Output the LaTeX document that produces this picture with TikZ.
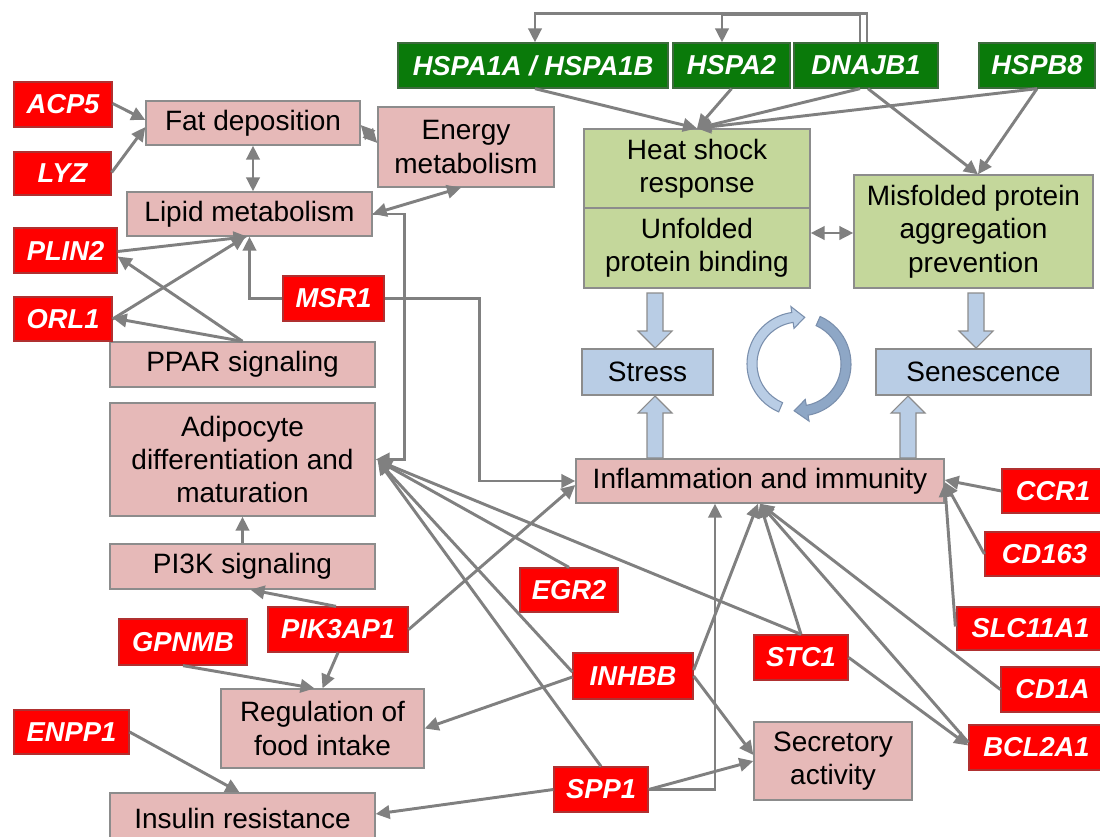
\documentclass[tikz,border=0pt]{standalone}
\usepackage{fontspec}
\setmainfont{Liberation Sans}
\usetikzlibrary{arrows.meta,calc}

\definecolor{genered}{HTML}{FF0000}
\definecolor{generim}{HTML}{B03030}
\definecolor{hspgreen}{HTML}{0A7A0A}
\definecolor{hsprim}{HTML}{3D6B3D}
\definecolor{procpink}{HTML}{E6B9B8}
\definecolor{procgreen}{HTML}{C4D79B}
\definecolor{procblue}{HTML}{B9CDE5}
\definecolor{boxrim}{HTML}{8C8C8C}
\definecolor{linkgray}{HTML}{808080}
\definecolor{cycdark}{HTML}{8EA7C6}
\definecolor{cycrim}{HTML}{7A8FAD}

\tikzset{
  boxbase/.style={inner sep=0pt, line width=1pt, align=center},
  gene/.style={boxbase, fill=genered, draw=generim, text=white,
    font=\fontsize{20.5}{24}\selectfont\bfseries\itshape},
  hsp/.style={boxbase, fill=hspgreen, draw=hsprim, text=white,
    font=\fontsize{20.5}{24}\selectfont\bfseries\itshape},
  proc/.style={boxbase, fill=procpink, draw=boxrim, font=\fontsize{21}{25}\selectfont},
  func/.style={proc, fill=procgreen},
  state/.style={proc, fill=procblue},
  tip/.tip={Triangle[length=10.5pt,width=10pt]},
  link/.style={draw=linkgray, line width=2.2pt, -tip},
  dlink/.style={draw=linkgray, line width=2.2pt, tip-tip},
  blockarrow/.style={fill=procblue, draw=boxrim, line width=0.8pt},
  cyclearrow/.style={draw=cycrim, line width=0.8pt},
}

% box from its pixel corners: name, x1, y1, x2, y2, style, text
\newcommand{\bx}[7]{\node[#6, minimum width={(#4-#2)*0.75pt},
  minimum height={(#5-#3)*0.75pt}] (#1) at ({(#2+#4)/2},{(#3+#5)/2}) {#7};}

% wide block arrow: x, start y, tip y, signed head length
\newcommand{\blk}[4]{\filldraw[blockarrow] ({#1-8},#2) -- ({#1+8},#2)
  -- ({#1+8},{#3-(#4)}) -- ({#1+17},{#3-(#4)}) -- (#1,#3)
  -- ({#1-17},{#3-(#4)}) -- ({#1-8},{#3-(#4)}) -- cycle;}

\begin{document}
\begin{tikzpicture}[x=0.75pt,y=-0.75pt]
\useasboundingbox (0,0) rectangle (1100,836);
\fill[white] (0,0) rectangle (1100,836);

% heat shock protein genes
\bx{g1}{398}{43}{668}{88}{hsp}{HSPA1A / HSPA1B}
\bx{g2}{673}{43}{790}{88}{hsp}{HSPA2}
\bx{g3}{794}{43}{938}{88}{hsp}{DNAJB1}
\bx{g4}{979}{43}{1095}{88}{hsp}{HSPB8}

% chaperone functions
\bx{heat}{584}{129}{810}{208}{func}{Heat shock\\response}
\bx{unfold}{584}{208}{810}{288}{func}{Unfolded\\protein binding}
\bx{misfold}{854}{175}{1093}{288}{func}{Misfolded protein\\aggregation\\prevention}

% outcomes
\bx{stress}{582}{349}{713}{395}{state}{Stress}
\bx{senesc}{876}{349}{1091}{395}{state}{Senescence}

% processes
\bx{fat}{146}{101}{360}{145}{proc}{Fat deposition}
\bx{energy}{378}{107}{554}{187}{proc}{Energy\\metabolism}
\bx{lipid}{127}{192}{372}{236}{proc}{Lipid metabolism}
\bx{ppar}{110}{342}{375}{387}{proc}{PPAR signaling}
\bx{adipo}{110}{403}{375}{516}{proc}{Adipocyte\\differentiation and\\maturation}
\bx{pi3k}{110}{544}{375}{589}{proc}{PI3K signaling}
\bx{food}{221}{689}{424}{768}{proc}{Regulation of\\food intake}
\bx{insulin}{110}{793}{375}{843}{proc}{Insulin resistance}
\bx{inflam}{576}{459}{944}{503}{proc}{Inflammation and immunity}
\bx{secret}{754}{722}{912}{800}{proc}{Secretory\\activity}

% genes
\bx{acp5}{14}{82}{112}{127}{gene}{ACP5}
\bx{lyz}{14}{152}{111}{195}{gene}{LYZ}
\bx{plin2}{14}{228}{117}{273}{gene}{PLIN2}
\bx{orl1}{14}{297}{112}{341}{gene}{ORL1}
\bx{msr1}{283}{276}{384}{321}{gene}{MSR1}
\bx{gpnmb}{119}{619}{247}{665}{gene}{GPNMB}
\bx{pik3ap1}{268}{607}{408}{652}{gene}{PIK3AP1}
\bx{enpp1}{14}{710}{129}{754}{gene}{ENPP1}
\bx{egr2}{520}{568}{618}{612}{gene}{EGR2}
\bx{inhbb}{573}{653}{693}{699}{gene}{INHBB}
\bx{spp1}{554}{767}{648}{812}{gene}{SPP1}
\bx{stc1}{754}{635}{848}{680}{gene}{STC1}
\bx{ccr1}{1002}{469}{1104}{513}{gene}{CCR1}
\bx{cd163}{985}{532}{1104}{576}{gene}{CD163}
\bx{slc}{957}{607}{1104}{650}{gene}{SLC11A1}
\bx{cd1a}{1001}{667}{1104}{712}{gene}{CD1A}
\bx{bcl}{969}{725}{1104}{770}{gene}{BCL2A1}

% block arrows between functions, outcomes and inflammation
\blk{655}{293}{348}{17}
\blk{976}{293}{348}{17}
\blk{655}{458}{396}{-17}
\blk{908}{458}{396}{-17}

% feedback cycle between stress and senescence
\filldraw[cyclearrow, fill=procblue]
  ([shift={(799,364)}]113:52) arc[start angle=113, end angle=262, radius=52]
  -- ([shift={(799,364)}]262:58) -- ([shift={(799,364)}]277:47)
  -- ([shift={(799,364)}]262:36) -- ([shift={(799,364)}]262:42)
  arc[start angle=262, end angle=113, radius=42] -- cycle;
\filldraw[cyclearrow, fill=cycdark]
  ([shift={(799,364)}]-66:52) arc[start angle=-66, end angle=80, radius=52]
  -- ([shift={(799,364)}]80:58) -- ([shift={(799,364)}]96:47)
  -- ([shift={(799,364)}]80:36) -- ([shift={(799,364)}]80:42)
  arc[start angle=80, end angle=-66, radius=42] -- cycle;

% DNAJB1 feedback onto the HSP70 genes
\draw[link] ([shift={(1,0)}]g3.north) -- ++(0,-29) -| ([shift={(2,0)}]g1.north);
\draw[link] ([shift={(-6,0)}]g3.north) -- ++(0,-28) -| ([shift={(-9.5,0)}]g2.north);

% genes to chaperone functions
\draw[link] ([shift={(2,0)}]g1.south) -- (heat.north);
\draw[link] (g2.south) -- (heat.north);
\draw[link] ([shift={(-6,0)}]g3.south) -- (heat.north);
\draw[link] (g4.south) -- (heat.north);
\draw[link] ([shift={(2,0)}]g3.south) -- ([shift={(4.5,0)}]misfold.north);
\draw[link] (g4.south) -- ([shift={(4.5,0)}]misfold.north);
\draw[dlink] ([shift={(0,-15)}]unfold.east) -- ([shift={(0,1.5)}]misfold.west);

% lipid and fat block
\draw[link] ([shift={(0,-1)}]acp5.east) -- ([shift={(0,-3)}]fat.west);
\draw[link] ([shift={(0,-1)}]lyz.east) -- ([shift={(0,4)}]fat.west);
\draw[dlink] (fat.south) -- (fat.south |- lipid.north);
\draw[dlink] ([shift={(0,2)}]fat.east) -- ([shift={(0,-4)}]energy.west);
\draw[dlink] (lipid.east) -- ([shift={(-5,0)}]energy.south);
\draw[link] (lipid.east) -- ++(32,0) |- (adipo.east);
\draw[link] ([shift={(0,1)}]plin2.east) -- ([shift={(-2,0)}]lipid.south);
\draw[link] (orl1.east) -- ([shift={(-4,0)}]lipid.south);
\draw[link] (ppar.north) -- ([shift={(0,6)}]plin2.east);
\draw[link] (ppar.north) -- ([shift={(0,-1)}]orl1.east);
\draw[link] (msr1.west) -- (msr1.west -| lipid.south) -- (lipid.south);
\draw[link] (msr1.east) -- ++(95,0) |- (inflam.west);

% adipocyte, feeding and insulin block
\draw[link] (pi3k.north) -- (adipo.south);
\draw[link] ([shift={(-2,0)}]pik3ap1.north) -- ([shift={(8,0)}]pi3k.south);
\draw[link] (pik3ap1.south) -- (food.north);
\draw[link] (gpnmb.south) -- ([shift={(-8,0)}]food.north);
\draw[link] (enpp1.east) -- ([shift={(-3,0)}]insulin.north);
\draw[link] (pik3ap1.east) -- ([shift={(0,4)}]inflam.west);
\draw[link] (egr2.north) -- ([shift={(2,1)}]adipo.east);
\draw[link] (stc1.north) -- ([shift={(2,1)}]adipo.east);
\draw[link] ([shift={(0,-4)}]inhbb.west) -- ([shift={(2,1)}]adipo.east);
\draw[link] (spp1.north) -- ([shift={(2,1)}]adipo.east);
\draw[link] ([shift={(0,1)}]inhbb.west) -- (food.east);
\draw[link] (spp1.west) -- ([shift={(0,-4)}]insulin.east);

% inflammation and secretion
\draw[link] (spp1.east) -- (secret.west);
\draw[link] (spp1.east) -| ([shift={(-45,0)}]inflam.south);
\draw[link] ([shift={(0,-6)}]inhbb.east) -- ([shift={(-2,0)}]inflam.south);
\draw[link] (inhbb.east) -- ([shift={(0,-6)}]secret.west);
\draw[link] (stc1.north) -- (inflam.south);
\draw[link] (stc1.east) -- ([shift={(0,-2)}]bcl.west);
\draw[link] ([shift={(0,-5)}]bcl.west) -- (inflam.south);
\draw[link] (cd1a.west) -- (inflam.south);
\draw[link] ([shift={(-1,-2)}]slc.west) -- ([shift={(0,2)}]inflam.east);
\draw[link] (cd163.west) -- ([shift={(0,1)}]inflam.east);
\draw[link] (ccr1.west) -- ([shift={(0,-1)}]inflam.east);
\end{tikzpicture}
\end{document}
